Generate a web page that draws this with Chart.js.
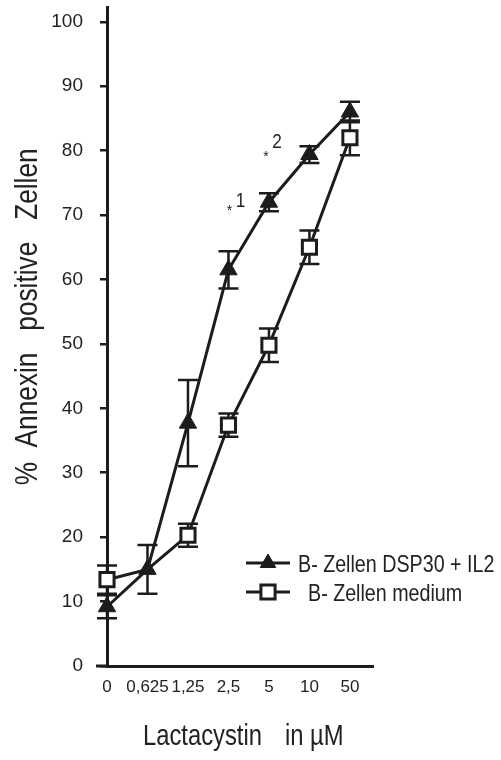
<!DOCTYPE html>
<html>
<head>
<meta charset="utf-8">
<script src="https://cdn.jsdelivr.net/npm/chart.js@4.4.1/dist/chart.umd.min.js"></script>
<style>
  html, body { margin: 0; padding: 0; background: #fff; }
</style>
</head>
<body>
<canvas id="chart" width="501" height="760"></canvas>
<script>
// Lactacystin doses (category labels on the x axis)
const doseLabels = ['0', '0,625', '1,25', '2,5', '5', '10', '50'];

// B- Zellen DSP30 + IL2 (filled triangles)
const dspMeans  = [9.2, 15.0, 37.7, 61.5, 72.0, 79.4, 86.0];
const dspErrors = [1.8, 3.8, 6.7, 2.9, 1.4, 1.3, 1.6];

// B- Zellen medium (open squares)
const mediumMeans  = [13.4, 15.0, 20.3, 37.4, 49.8, 65.0, 82.0];
const mediumErrors = [2.2, null, 1.8, 1.8, 2.6, 2.6, 2.7];

const yTicks = [0, 10, 20, 30, 40, 50, 60, 70, 80, 90, 100];

const INK = '#1c1c1c';
const TEXT = '#222222';
const FONT = "'Liberation Sans', Arial, sans-serif";
const SQUEEZE = 0.82; // the original uses a narrow face

// draw text squeezed horizontally (no narrow font installed)
function narrowText(ctx, text, x, y, size, align) {
    ctx.save();
    ctx.translate(x, y);
    ctx.scale(SQUEEZE, 1);
    ctx.font = size + 'px ' + FONT;
    ctx.textAlign = align;
    ctx.fillText(text, 0, 0);
    ctx.restore();
}

function toPoints(values) {
    return values.map((v, i) => ({ x: i, y: v }));
}

// error bars drawn under the markers
const errorBarPlugin = {
    id: 'errorBars',
    beforeDatasetsDraw(chart) {
        const ctx = chart.ctx;
        const xs = chart.scales.x;
        const ys = chart.scales.y;
        const sets = [[dspMeans, dspErrors], [mediumMeans, mediumErrors]];
        ctx.save();
        ctx.strokeStyle = INK;
        ctx.lineWidth = 2.5;
        sets.forEach(([means, errs]) => {
            means.forEach((m, i) => {
                if (errs[i] == null) return;
                const x = xs.getPixelForValue(i);
                const top = ys.getPixelForValue(m + errs[i]);
                const bot = ys.getPixelForValue(m - errs[i]);
                ctx.beginPath();
                ctx.moveTo(x, top);
                ctx.lineTo(x, bot);
                ctx.moveTo(x - 10, top);
                ctx.lineTo(x + 10, top);
                ctx.moveTo(x - 10, bot);
                ctx.lineTo(x + 10, bot);
                ctx.stroke();
            });
        });
        ctx.restore();
    }
};

// axis titles, legend in the lower right, the stars and little x axis stub
const extrasPlugin = {
    id: 'extras',
    afterDraw(chart) {
        const ctx = chart.ctx;
        const xs = chart.scales.x;
        const ys = chart.scales.y;
        const area = chart.chartArea;
        ctx.save();

        // x axis line runs a bit left of the y axis
        ctx.strokeStyle = INK;
        ctx.lineWidth = 3;
        ctx.beginPath();
        ctx.moveTo(area.left - 11, area.bottom);
        ctx.lineTo(area.left, area.bottom);
        ctx.stroke();

        ctx.fillStyle = TEXT;
        ctx.textBaseline = 'alphabetic';

        // x axis title
        narrowText(ctx, 'Lactacystin', 143, 745, 29, 'left');
        narrowText(ctx, 'in µM', 285, 745, 29, 'left');

        // y axis title
        ctx.save();
        ctx.translate(37, ys.getPixelForValue(54.2));
        ctx.rotate(-Math.PI / 2);
        narrowText(ctx, '%  Annexin   positive   Zellen', 0, 0, 32, 'center');
        ctx.restore();

        // legend
        const rows = [
            { ds: chart.data.datasets[0], y: 563, textX: 298 },
            { ds: chart.data.datasets[1], y: 592, textX: 308 }
        ];
        rows.forEach(r => {
            ctx.strokeStyle = INK;
            ctx.lineWidth = 3;
            ctx.beginPath();
            ctx.moveTo(246, r.y);
            ctx.lineTo(290, r.y);
            ctx.stroke();
            ctx.fillStyle = r.ds.pointBackgroundColor;
            ctx.strokeStyle = INK;
            ctx.lineWidth = r.ds.pointBorderWidth;
            Chart.helpers.drawPoint(ctx, {
                pointStyle: r.ds.pointStyle,
                radius: r.ds.legendRadius,
                borderWidth: r.ds.pointBorderWidth,
                rotation: 0
            }, 268, r.y);
            ctx.fillStyle = TEXT;
            narrowText(ctx, r.ds.label, r.textX, r.y + 9, 24, 'left');
        });

        // significance marks
        ctx.fillStyle = TEXT;
        ctx.textAlign = 'center';
        ctx.font = '14px ' + FONT;
        ctx.fillText('*', xs.getPixelForValue(3) + 1, ys.getPixelForValue(70.0));
        ctx.fillText('*', xs.getPixelForValue(4) - 3, ys.getPixelForValue(78.4));
        narrowText(ctx, '1', xs.getPixelForValue(3) + 12, ys.getPixelForValue(71.3), 21, 'center');
        narrowText(ctx, '2', xs.getPixelForValue(4) + 8, ys.getPixelForValue(80.4), 21, 'center');

        ctx.restore();
    }
};

new Chart(document.getElementById('chart').getContext('2d'), {
    type: 'line',
    data: {
        datasets: [
            {
                label: 'B- Zellen DSP30 + IL2',
                data: toPoints(dspMeans),
                borderColor: INK,
                borderWidth: 3,
                pointStyle: 'triangle',
                pointRadius: 10,
                legendRadius: 9,
                pointBackgroundColor: INK,
                pointBorderColor: INK,
                pointBorderWidth: 1,
                tension: 0,
                clip: false
            },
            {
                label: 'B- Zellen medium',
                data: toPoints(mediumMeans),
                borderColor: INK,
                borderWidth: 3,
                pointStyle: 'rect',
                pointRadius: [10, 0, 10, 10, 10, 10, 10],
                legendRadius: 10,
                pointBackgroundColor: '#ffffff',
                pointBorderColor: INK,
                pointBorderWidth: 3,
                tension: 0,
                clip: false
            }
        ]
    },
    options: {
        responsive: false,
        animation: false,
        devicePixelRatio: 1,
        layout: {
            autoPadding: false,
            padding: { top: 7, right: 128, left: 0, bottom: 0 }
        },
        plugins: {
            legend: { display: false },
            tooltip: { enabled: false }
        },
        scales: {
            x: {
                type: 'linear',
                min: 0,
                max: 6.57,
                afterBuildTicks: scale => {
                    scale.ticks = doseLabels.map((_, i) => ({ value: i }));
                },
                afterFit: scale => {
                    scale.height = 94;
                    scale.paddingLeft = 0;
                    scale.paddingRight = 0;
                },
                ticks: {
                    autoSkip: false,
                    maxRotation: 0,
                    padding: 11,
                    color: TEXT,
                    font: { family: FONT, size: 17 },
                    callback: v => doseLabels[v]
                },
                grid: { drawOnChartArea: false, drawTicks: false },
                border: { color: INK, width: 3 },
                title: { display: false }
            },
            y: {
                min: 0,
                max: 102.3,
                afterBuildTicks: scale => {
                    scale.ticks = yTicks.map(v => ({ value: v }));
                },
                afterFit: scale => {
                    scale.width = 107;
                    scale.paddingTop = 0;
                    scale.paddingBottom = 0;
                },
                ticks: {
                    padding: 17,
                    color: TEXT,
                    font: { family: FONT, size: 19 }
                },
                grid: {
                    drawOnChartArea: false,
                    drawTicks: true,
                    tickLength: 7,
                    color: INK,
                    lineWidth: 2.5
                },
                border: { color: INK, width: 3 },
                title: { display: false }
            }
        }
    },
    plugins: [errorBarPlugin, extrasPlugin]
});
</script>
</body>
</html>
